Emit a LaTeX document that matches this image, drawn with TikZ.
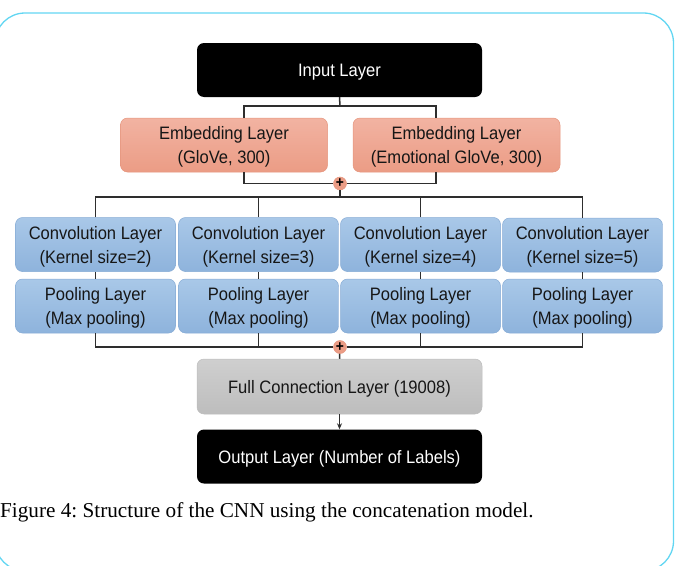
\documentclass[tikz,border=0pt]{standalone}
\usepackage{fontspec}
\usetikzlibrary{arrows.meta,shadings}
\setmainfont{Liberation Serif}
\newfontfamily\boxfont{Liberation Sans}[FakeStretch=0.92]
\frenchspacing

\definecolor{framecyan}{HTML}{62D6F2}
\definecolor{wirecol}{HTML}{2E2E2E}
\definecolor{embtop}{HTML}{F2B3A2}
\definecolor{embbot}{HTML}{EB9C85}
\definecolor{embline}{HTML}{E5957D}
\definecolor{convtop}{HTML}{A9C8E8}
\definecolor{convbot}{HTML}{8EB3DC}
\definecolor{convline}{HTML}{86ABD5}
\definecolor{fctop}{HTML}{CFCFCF}
\definecolor{fcbot}{HTML}{BDBDBD}
\definecolor{txt}{HTML}{161616}

\tikzset{
  layer/.style={rounded corners=7pt, align=center, inner sep=0pt,
    font=\boxfont\fontsize{18}{24}\selectfont, text=txt, text depth=0pt},
  darkbox/.style={layer, fill=black, text=white,
    minimum width=285pt, minimum height=54pt},
  embbox/.style={layer, top color=embtop, bottom color=embbot, draw=embline,
    line width=0.5pt, minimum width=207pt, minimum height=54pt},
  convbox/.style={layer, top color=convtop, bottom color=convbot, draw=convline,
    line width=0.5pt, minimum width=160pt, minimum height=54pt},
  fcbox/.style={layer, top color=fctop, bottom color=fcbot, draw=fcbot,
    line width=0.5pt, minimum width=285pt, minimum height=55pt},
  sumnode/.style={circle, fill=embbot, draw=embline, line width=0.5pt,
    inner sep=0pt, minimum size=13pt, text depth=0pt,
    font=\boxfont\fontsize{15}{15}\bfseries\selectfont},
  wire/.style={draw=wirecol, line width=1.5pt},
}

\begin{document}
\begin{tikzpicture}[x=1pt, y=-1pt]
  \useasboundingbox (0,0) rectangle (677,565);

  % outer frame
  \draw[framecyan, line width=1.3pt, rounded corners=30pt]
    (-5,13) rectangle (673.5,571);

  % layers
  \node[darkbox] (inp) at (339.5,70) {Input Layer};
  \node[embbox] (embA) at (224,145) {Embedding Layer\\(GloVe, 300)};
  \node[embbox] (embB) at (456.5,145) {Embedding Layer\\(Emotional GloVe, 300)};

  \node[convbox] (conv1) at (95.5,244.5) {Convolution Layer\\(Kernel size=2)};
  \node[convbox] (conv2) at (258.5,244.5) {Convolution Layer\\(Kernel size=3)};
  \node[convbox] (conv3) at (420.5,244.5) {Convolution Layer\\(Kernel size=4)};
  \node[convbox] (conv4) at (582.5,245) {Convolution Layer\\(Kernel size=5)};

  \node[convbox] (pool1) at (95.5,306) {Pooling Layer\\(Max pooling)};
  \node[convbox] (pool2) at (258.5,306) {Pooling Layer\\(Max pooling)};
  \node[convbox] (pool3) at (420.5,306) {Pooling Layer\\(Max pooling)};
  \node[convbox] (pool4) at (582.5,306) {Pooling Layer\\(Max pooling)};

  \node[fcbox] (fc) at (339.5,386.5) {Full Connection Layer (19008)};
  \node[darkbox] (out) at (339.5,456.5) {Output Layer (Number of Labels)};

  % junction points
  \coordinate (j1) at (340,106);
  \coordinate (j2) at (340,197);
  \node[sumnode] (sumA) at (340,183.5) {+};
  \node[sumnode] (sumB) at (340,347) {+};

  % input to the two embeddings
  \draw[wire] (inp.south) -- (j1);
  \draw[wire] ([xshift=20pt]embA.north) |- (j1) -| ([xshift=-20.5pt]embB.north);

  % embeddings merged
  \draw[wire] ([xshift=20pt]embA.south) |- (sumA) -| ([xshift=-20.5pt]embB.south);
  \draw[wire] (sumA) -- (j2);

  % fan out to the convolutions
  \draw[wire] (conv1.north) |- (j2) -| (conv4.north);
  \draw[wire] (conv2.north) -- (conv2.north |- j2);
  \draw[wire] (conv3.north) -- (conv3.north |- j2);

  % convolution to pooling
  \draw[wire] (conv1.south) -- (pool1.north);
  \draw[wire] (conv2.south) -- (pool2.north);
  \draw[wire] (conv3.south) -- (pool3.north);
  \draw[wire] (conv4.south) -- (pool4.north);

  % pooling outputs concatenated
  \draw[wire] (pool1.south) |- (sumB) -| (pool4.south);
  \draw[wire] (pool2.south) -- (pool2.south |- sumB);
  \draw[wire] (pool3.south) -- (pool3.south |- sumB);
  \draw[wire] (sumB) -- (fc.north);

  % full connection to output
  \draw[wire, line width=1.2pt, -{Stealth[length=6pt, width=5pt]}] (fc.south) -- (out.north);

  % caption
  \node[anchor=base west, inner sep=0pt, font=\fontsize{21.2}{24}\selectfont, text=black]
    (cap) at (0,517) {Figure 4: Structure of the CNN using the concatenation model.};
\end{tikzpicture}
\end{document}
